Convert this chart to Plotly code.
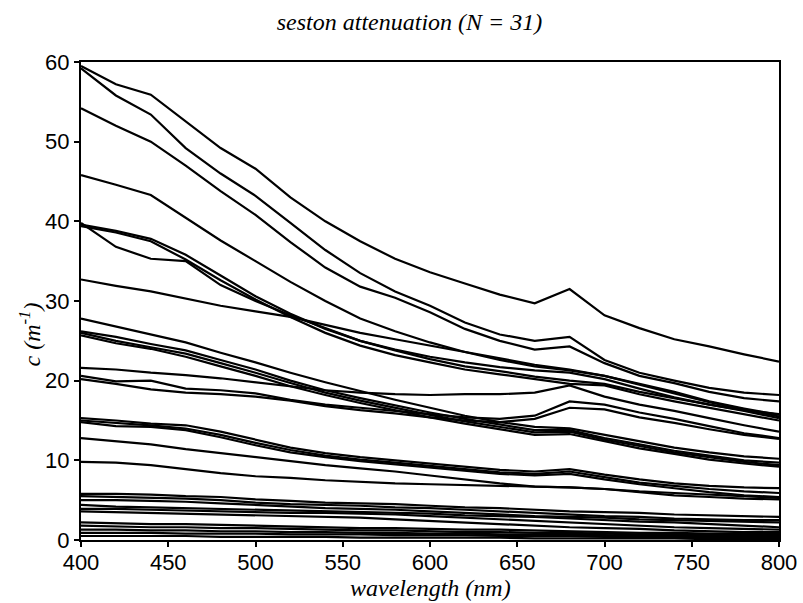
import plotly.graph_objects as go

wavelength = list(range(400, 801, 20))

# 31 seston attenuation spectra, values in m^-1 read at 20 nm steps
A = [59.5, 57.2, 55.9, 52.5, 49.2, 46.6, 43.0, 40.0, 37.5, 35.3, 33.6, 32.2, 30.8, 29.7, 31.5, 28.2, 26.6, 25.2, 24.3, 23.3, 22.4]
B = [59.2, 55.8, 53.4, 49.2, 46.0, 43.2, 39.8, 36.4, 33.5, 31.2, 29.4, 27.3, 25.8, 25.0, 25.5, 22.6, 21.0, 20.0, 19.1, 18.5, 18.2]
C = [54.2, 52.0, 50.0, 47.0, 43.8, 40.8, 37.4, 34.2, 31.8, 30.4, 28.6, 26.5, 25.0, 23.9, 24.3, 22.2, 20.6, 19.7, 18.6, 17.8, 17.4]
D = [45.8, 44.6, 43.3, 40.5, 37.6, 35.0, 32.4, 30.0, 27.8, 26.2, 24.8, 23.6, 22.6, 21.8, 21.3, 20.6, 19.6, 18.6, 17.4, 16.5, 15.7]
E = [39.6, 38.8, 37.8, 35.8, 33.2, 30.6, 28.4, 26.5, 25.0, 23.8, 22.7, 21.8, 21.2, 20.5, 20.0, 19.6, 18.6, 17.8, 17.0, 16.2, 15.3]
F = [39.4, 38.6, 37.5, 35.2, 32.6, 30.2, 28.0, 26.0, 24.4, 23.2, 22.3, 21.4, 20.8, 20.2, 19.6, 19.4, 18.3, 17.4, 16.6, 15.8, 15.0]
G = [39.8, 36.8, 35.3, 35.0, 32.0, 30.0, 28.2, 26.6, 25.0, 23.9, 23.0, 22.3, 21.7, 21.3, 21.0, 20.2, 19.0, 17.9, 17.0, 16.3, 15.8]
H = [32.7, 31.9, 31.2, 30.3, 29.4, 28.7, 28.0, 27.0, 26.0, 25.2, 24.4, 23.6, 22.8, 22.0, 21.4, 20.6, 19.5, 18.4, 17.3, 16.4, 15.5]
I = [27.8, 26.8, 25.8, 24.8, 23.5, 22.3, 21.0, 19.8, 18.7, 17.6, 16.6, 15.6, 14.8, 14.2, 14.0, 13.2, 12.4, 11.6, 11.0, 10.5, 10.2]
J = [26.2, 25.5, 24.6, 23.8, 22.6, 21.4, 20.0, 18.8, 17.8, 16.9, 16.0, 15.2, 14.5, 13.8, 13.8, 12.8, 12.0, 11.2, 10.6, 10.0, 9.7]
K = [26.0, 25.0, 24.2, 23.4, 22.2, 21.0, 19.7, 18.5, 17.5, 16.6, 15.7, 14.9, 14.2, 13.5, 13.6, 12.6, 11.8, 11.0, 10.4, 9.8, 9.4]
L = [25.7, 24.7, 24.0, 23.0, 21.8, 20.6, 19.3, 18.2, 17.2, 16.3, 15.4, 14.6, 13.9, 13.2, 13.3, 12.4, 11.5, 10.8, 10.1, 9.6, 9.2]
M = [21.6, 21.4, 21.0, 20.7, 20.3, 19.8, 19.3, 18.8, 18.5, 18.3, 18.2, 18.3, 18.3, 18.5, 19.4, 18.0, 17.0, 16.2, 15.3, 14.4, 13.6]
N = [20.6, 19.9, 20.0, 19.0, 18.8, 18.4, 17.6, 17.0, 16.6, 16.2, 15.8, 15.4, 15.2, 15.6, 17.4, 17.0, 16.0, 15.2, 14.3, 13.4, 12.8]
O = [20.2, 19.6, 18.9, 18.5, 18.3, 18.0, 17.5, 16.8, 16.3, 15.9, 15.4, 15.0, 14.8, 15.2, 16.6, 16.4, 15.4, 14.7, 13.9, 13.2, 12.7]
P = [15.3, 15.0, 14.6, 14.4, 13.6, 12.6, 11.6, 10.9, 10.4, 10.0, 9.6, 9.2, 8.8, 8.6, 8.9, 8.2, 7.6, 7.1, 6.8, 6.6, 6.5]
Q = [15.0, 14.7, 14.4, 14.0, 13.2, 12.2, 11.3, 10.6, 10.1, 9.7, 9.3, 8.9, 8.5, 8.3, 8.6, 7.9, 7.2, 6.8, 6.4, 6.1, 5.9]
R = [14.8, 14.3, 14.2, 13.8, 12.9, 11.9, 11.0, 10.4, 9.9, 9.5, 9.1, 8.7, 8.3, 8.1, 8.3, 7.6, 7.0, 6.5, 6.0, 5.6, 5.4]
S = [12.8, 12.4, 12.0, 11.4, 10.9, 10.4, 9.9, 9.4, 9.0, 8.6, 8.1, 7.6, 7.1, 6.7, 6.6, 6.4, 6.1, 5.9, 5.7, 5.5, 5.3]
T = [9.8, 9.7, 9.4, 8.9, 8.4, 8.0, 7.8, 7.5, 7.3, 7.1, 7.0, 6.9, 6.8, 6.7, 6.6, 6.4, 6.0, 5.6, 5.4, 5.2, 5.1]
U1 = [5.8, 5.8, 5.7, 5.5, 5.4, 5.1, 4.9, 4.7, 4.6, 4.5, 4.3, 4.1, 4.0, 3.8, 3.6, 3.5, 3.4, 3.2, 3.1, 3.0, 2.9]
U2 = [5.5, 5.4, 5.3, 5.2, 5.0, 4.7, 4.5, 4.4, 4.3, 4.1, 4.0, 3.8, 3.6, 3.4, 3.2, 3.0, 2.9, 2.7, 2.6, 2.5, 2.5]
U3 = [5.0, 5.0, 4.9, 4.8, 4.6, 4.4, 4.2, 4.0, 3.9, 3.8, 3.6, 3.4, 3.2, 3.0, 2.9, 2.8, 2.6, 2.5, 2.4, 2.3, 2.2]
U4 = [4.4, 4.2, 4.1, 4.0, 3.9, 3.8, 3.7, 3.6, 3.5, 3.4, 3.3, 3.1, 3.0, 2.9, 2.7, 2.5, 2.3, 2.2, 2.0, 1.8, 1.6]
U5 = [3.9, 3.9, 3.8, 3.7, 3.6, 3.5, 3.4, 3.4, 3.3, 3.2, 3.0, 2.8, 2.6, 2.4, 2.2, 2.0, 1.8, 1.6, 1.5, 1.4, 1.3]
U6 = [3.6, 3.5, 3.4, 3.3, 3.2, 3.1, 3.0, 2.9, 2.8, 2.6, 2.4, 2.2, 2.0, 1.8, 1.6, 1.5, 1.4, 1.2, 1.1, 1.0, 1.0]
U7 = [2.2, 2.1, 2.0, 2.0, 1.9, 1.8, 1.7, 1.6, 1.5, 1.5, 1.4, 1.3, 1.3, 1.2, 1.1, 1.0, 0.9, 0.9, 0.8, 0.8, 0.8]
U8 = [1.8, 1.7, 1.6, 1.6, 1.5, 1.5, 1.4, 1.3, 1.2, 1.2, 1.1, 1.0, 1.0, 0.9, 0.9, 0.8, 0.7, 0.7, 0.6, 0.6, 0.6]
U9 = [1.3, 1.3, 1.2, 1.2, 1.1, 1.1, 1.0, 1.0, 0.9, 0.9, 0.8, 0.8, 0.7, 0.7, 0.6, 0.6, 0.5, 0.5, 0.5, 0.4, 0.4]
U10 = [0.9, 0.9, 0.9, 0.8, 0.8, 0.8, 0.7, 0.7, 0.7, 0.6, 0.6, 0.6, 0.5, 0.5, 0.5, 0.4, 0.4, 0.4, 0.3, 0.3, 0.3]
U11 = [0.5, 0.5, 0.5, 0.5, 0.4, 0.4, 0.4, 0.4, 0.3, 0.3, 0.3, 0.3, 0.3, 0.2, 0.2, 0.2, 0.2, 0.2, 0.1, 0.1, 0.1]

spectra = [A, B, C, D, E, F, G, H, I, J, K, L, M, N, O, P, Q, R, S, T,
           U1, U2, U3, U4, U5, U6, U7, U8, U9, U10, U11]

x_ticks = [400, 450, 500, 550, 600, 650, 700, 750, 800]
y_ticks = [0, 10, 20, 30, 40, 50, 60]

fig = go.Figure()
for s in spectra:
    fig.add_trace(go.Scatter(x=wavelength, y=s, mode="lines",
                             line=dict(color="black", width=2.2),
                             showlegend=False, hoverinfo="skip"))

serif = "Liberation Serif, Times New Roman, serif"
sans = "Liberation Sans, Arial, sans-serif"

fig.update_layout(
    width=803, height=603,
    margin=dict(l=81, r=24, t=62, b=63),
    paper_bgcolor="white", plot_bgcolor="white",
    title=dict(text="<i>seston attenuation (N = 31)</i>",
               x=0.51, xanchor="center", y=0.965, yanchor="middle",
               font=dict(family=serif, size=24, color="black")),
    annotations=[
        dict(text="<i>wavelength (nm)</i>", xref="paper", yref="paper",
             x=0.5, y=-0.1, xanchor="center", yanchor="middle",
             showarrow=False, font=dict(family=serif, size=24, color="black")),
        dict(text="<i>c (m<sup>-1</sup>)</i>", xref="paper", yref="paper",
             x=-0.073, y=0.43, xanchor="center", yanchor="middle", textangle=-90,
             showarrow=False, font=dict(family=serif, size=24, color="black")),
    ],
)
fig.update_xaxes(range=[400, 800], tickvals=x_ticks, ticks="outside", ticklen=5,
                 tickwidth=2, tickcolor="black", showline=True, linewidth=2,
                 linecolor="black", mirror=True, showgrid=False, zeroline=False,
                 automargin=False, ticklabelstandoff=-3,
                 tickfont=dict(family=sans, size=22, color="black"))
fig.update_yaxes(range=[0, 60], tickvals=y_ticks, ticks="outside", ticklen=5,
                 tickwidth=2, tickcolor="black", showline=True, linewidth=2,
                 linecolor="black", mirror=True, showgrid=False, zeroline=False,
                 automargin=False,
                 tickfont=dict(family=sans, size=22, color="black"))

fig.write_html("out.html")
